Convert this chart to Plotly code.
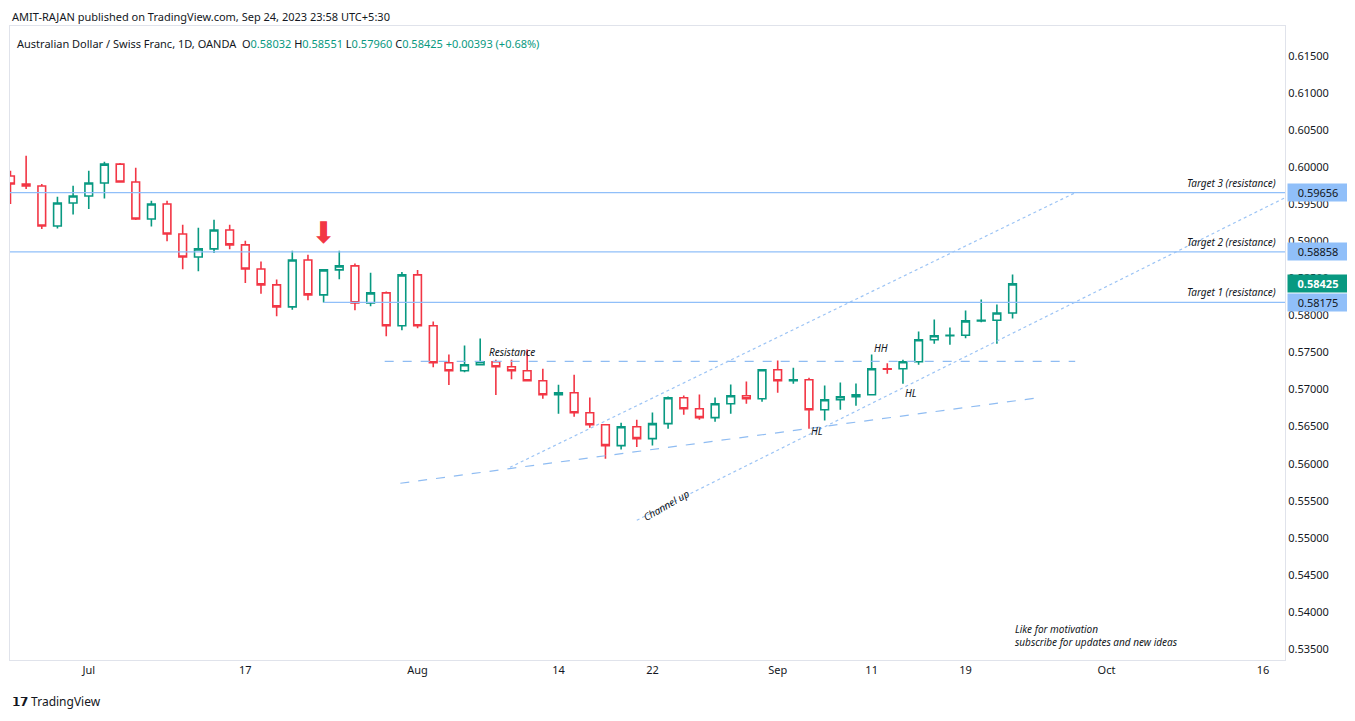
import plotly.graph_objects as go
import pandas as pd

opens  = [.59880,.59772,.59745,.59206,.59516,.59610,.59786,.60041,.59799,.59301,
          .59503,.59099,.58789,.58897,.59153,.58951,.58627,.58412,.58115,.58748,
          .58277,.58614,.58668,.58169,.58304,.57860,.58547,.57860,.57361,.57254,
          .57334,.57375,.57307,.57254,.57119,.56930,.56957,.56688,.56526,.56244,
          .56499,.56338,.56540,.56890,.56742,.56621,.56809,.56917,.56876,.57267,
          .57119,.57132,.56728,.56863,.56903,.56930,.57280,.57280,.57375,.57671,
          .57725,.57733,.57927,.57935,.58032]
highs  = [.59951,.60153,.59772,.59601,.59749,.59951,.60072,.60055,.59992,.59547,
          .59547,.59224,.59184,.59291,.59224,.59008,.58726,.58483,.58874,.58820,
          .58627,.58874,.58699,.58577,.58322,.58587,.58614,.57918,.57473,.57594,
          .57689,.57402,.57402,.57540,.57280,.57065,.57200,.56894,.56530,.56553,
          .56594,.56692,.56907,.56921,.56934,.56894,.57069,.57109,.57270,.57392,
          .57294,.57159,.57056,.57096,.57082,.57473,.57356,.57402,.57783,.57944,
          .57837,.58066,.58214,.58147,.58551]
lows   = [.59503,.59705,.59166,.59174,.59363,.59435,.59578,.59790,.59287,.59201,
          .58999,.58622,.58595,.58843,.58891,.58439,.58291,.57989,.58075,.58204,
          .58173,.58487,.58070,.58124,.57720,.57800,.57827,.57302,.57060,.57235,
          .57330,.56925,.57140,.57115,.56876,.56674,.56634,.56486,.56068,.56190,
          .56225,.56244,.56472,.56661,.56594,.56567,.56674,.56809,.56836,.56957,
          .57078,.56472,.56584,.56728,.56782,.56925,.57213,.57078,.57334,.57617,
          .57604,.57693,.57908,.57617,.57960]
closes = [.59772,.59745,.59206,.59516,.59610,.59786,.60041,.59799,.59301,.59503,
          .59099,.58789,.58897,.59153,.58951,.58627,.58412,.58115,.58748,.58277,
          .58614,.58668,.58169,.58304,.57860,.58547,.57860,.57361,.57254,.57334,
          .57375,.57307,.57254,.57119,.56930,.56957,.56688,.56526,.56244,.56499,
          .56338,.56540,.56890,.56742,.56621,.56809,.56917,.56876,.57267,.57119,
          .57132,.56728,.56863,.56903,.56930,.57280,.57275,.57375,.57671,.57725,
          .57733,.57927,.57935,.58032,.58425]

tick_dates  = ["2023-07-03","2023-07-17","2023-08-01","2023-08-14","2023-08-22",
               "2023-09-01","2023-09-11","2023-09-19","2023-10-02","2023-10-16"]
tick_labels = ["Jul","17","Aug","14","22","Sep","11","19","Oct","16"]

targets = [0.59656, 0.58858, 0.58175]
target_names = ["Target 3 (resistance)","Target 2 (resistance)","Target 1 (resistance)"]
target_start = [0, 0, 20]
resistance = 0.57379
channel_upper = [(31.9, 0.55951), (68.0, 0.59655)]
channel_lower = [(40.0, 0.55237), (81.4, 0.59588)]
trendline = [(24.9, 0.55736), (65.8, 0.56894)]

all_dates = pd.bdate_range("2023-06-26", periods=82)
idx = list(range(len(opens)))
tickvals = [list(all_dates.strftime("%Y-%m-%d")).index(d) for d in tick_dates]

UP, DN = "#089981", "#F23645"
fig = go.Figure(go.Candlestick(
    x=idx, open=opens, high=highs, low=lows, close=closes,
    increasing=dict(line=dict(color=UP, width=1.6), fillcolor="white"),
    decreasing=dict(line=dict(color=DN, width=1.6), fillcolor="white"),
    whiskerwidth=0, showlegend=False, hoverinfo="skip"))

BL = "#90bff9"
XR = 81.4
for t, s in zip(targets, target_start):
    fig.add_shape(type="line", x0=s - 0.5 if s == 0 else s, x1=XR, y0=t, y1=t,
                  line=dict(color=BL, width=1.2))
fig.add_shape(type="line", x0=23.9, x1=68.0, y0=resistance, y1=resistance,
              line=dict(color="#8fbcf2", width=1.2, dash="dash"))
for seg in (channel_upper, channel_lower):
    fig.add_shape(type="line", x0=seg[0][0], y0=seg[0][1], x1=seg[1][0], y1=seg[1][1],
                  line=dict(color="#9cc4f5", width=1.2, dash="dot"))
fig.add_shape(type="line", x0=trendline[0][0], y0=trendline[0][1], x1=trendline[1][0],
              y1=trendline[1][1], line=dict(color="#8fbcf2", width=1.2, dash="dash"))

F = "Noto Sans"
def txt(x, y, s, size=10, **kw):
    fig.add_annotation(x=x, y=y, text=s, showarrow=False,
                       font=dict(family=F, size=size, color="#131722"), **kw)

for t, n in zip(targets, target_names):
    txt(80.95, t, "<i>" + n + "</i>", size=10, xanchor="right", yanchor="bottom", yshift=1)
txt(32.0, 0.5750, "<i>Resistance</i>", size=10)
txt(55.6, 0.57567, "<i>HH</i>", size=10)
txt(57.5, 0.56948, "<i>HL</i>", size=10)
txt(51.5, 0.56436, "<i>HL</i>", size=10)
txt(41.9, 0.55439, "<i>Channel up</i>", size=10, textangle=-30)
txt(64.0, 0.5368, "<i>Like for motivation<br>subscribe for updates and new ideas</i>",
    size=10, xanchor="left", align="left")
fig.add_annotation(x=20, y=0.5886, text="⬇", showarrow=False, yanchor="bottom",
                   font=dict(family="DejaVu Sans", size=30, color=DN))

for t in targets:
    fig.add_annotation(xref="paper", x=1.0, y=t, xanchor="left", text=f"{t:.5f}",
                       showarrow=False, bgcolor=BL, width=58, xshift=2,
                       font=dict(family=F, size=11, color="#131722"))
fig.add_annotation(xref="paper", x=1.0, y=closes[-1], xanchor="left",
                   text=f"<b>{closes[-1]:.5f}</b>", showarrow=False, bgcolor=UP,
                   width=58, xshift=2, font=dict(family=F, size=11, color="white"))

fig.add_annotation(xref="paper", yref="paper", x=0.0, y=1.0, yshift=19, xanchor="left",
                   yanchor="top", showarrow=False,
                   text="AMIT-RAJAN published on TradingView.com, Sep 24, 2023 23:58 UTC+5:30",
                   font=dict(family=F, size=11, color="#131722"))
g = lambda s: f"<span style='color:{UP}'>{s}</span>"
fig.add_annotation(xref="paper", yref="paper", x=0.004, y=1.0, yshift=-8, xanchor="left",
                   yanchor="top", showarrow=False,
                   text=("Australian Dollar / Swiss Franc, 1D, OANDA  O" + g("0.58032") +
                         " H" + g("0.58551") + " L" + g("0.57960") + " C" + g("0.58425") +
                         " " + g("+0.00393 (+0.68%)")),
                   font=dict(family=F, size=11, color="#131722"))
fig.add_annotation(xref="paper", yref="paper", x=0.0, y=0, yshift=-52, xanchor="left",
                   yanchor="bottom", showarrow=False, text="<b>𝟭𝟳</b> TradingView",
                   font=dict(family=F, size=12, color="#131722"))

fig.update_layout(
    width=1355, height=721, paper_bgcolor="white", plot_bgcolor="white",
    margin=dict(l=2, r=78, t=18, b=69, autoexpand=False),
    xaxis=dict(range=[-0.03, XR], tickvals=tickvals, ticktext=tick_labels, automargin=False,
               rangeslider=dict(visible=False), showgrid=False, zeroline=False,
               ticks="", tickfont=dict(family=F, size=11, color="#131722"),
               showline=True, linecolor="#e0e3eb", mirror=True),
    yaxis=dict(side="right", range=[0.53352, 0.61904], dtick=0.005, tick0=0.535,
               tickformat=".5f", showgrid=False, zeroline=False, ticks="", automargin=False,
               tickfont=dict(family=F, size=11, color="#131722"),
               showline=True, linecolor="#e0e3eb", mirror=True),
)
fig.write_html("out.html")
